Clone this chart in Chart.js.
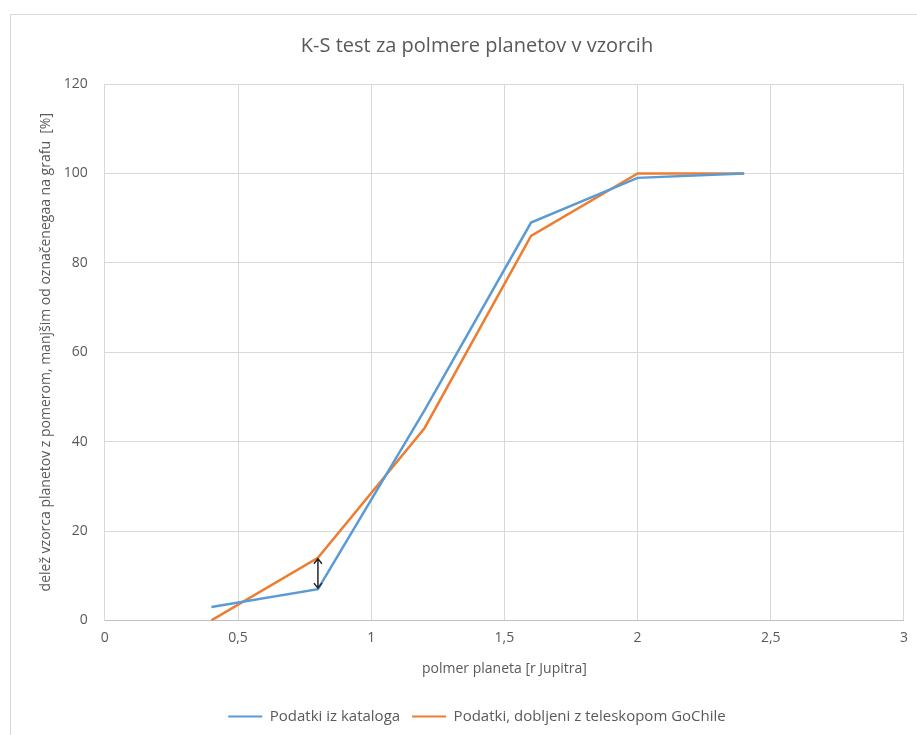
<!DOCTYPE html>
<html>
<head>
<meta charset="utf-8">
<script src="https://cdn.jsdelivr.net/npm/chart.js@4"></script>
<style>
  html, body { margin: 0; padding: 0; background: #fff; }
  #frame { position: absolute; left: 10px; top: 14px; width: 920px; height: 740px; border-left: 1px solid #d9d9d9; border-top: 1px solid #d9d9d9; }
  #wrap { position: absolute; left: 0; top: 0; width: 917px; height: 735px; }
</style>
</head>
<body>
<div id="frame"></div>
<div id="wrap"><canvas id="ks"></canvas></div>
<script>
// --- podatki ---
const radii = [0.4, 0.8, 1.2, 1.6, 2.0, 2.4];
const catalogValues = [3, 7, 47, 89, 99, 100];
const telescopeValues = [0, 14, 43, 86, 100, 100];
const xTicks = [0, 0.5, 1, 1.5, 2, 2.5, 3];
const yTicks = [0, 20, 40, 60, 80, 100, 120];
const seriesNames = ['Podatki iz kataloga', 'Podatki, dobljeni z teleskopom GoChile'];
const arrowAt = 0.8; // puščica med krivuljama

const toPoints = vals => radii.map((r, i) => ({ x: r, y: vals[i] }));

// puščica z dvema konicama pri x = 0,8
const arrowPlugin = {
  id: 'ksArrow',
  afterDatasetsDraw(chart) {
    const { ctx, scales } = chart;
    const i = radii.indexOf(arrowAt);
    const x = scales.x.getPixelForValue(arrowAt);
    const y1 = scales.y.getPixelForValue(catalogValues[i]);
    const y2 = scales.y.getPixelForValue(telescopeValues[i]);
    const top = Math.min(y1, y2) + 1, bot = Math.max(y1, y2) - 1;
    ctx.save();
    ctx.strokeStyle = '#262626';
    ctx.lineWidth = 1.5;
    ctx.beginPath();
    ctx.moveTo(x, top); ctx.lineTo(x, bot);
    ctx.moveTo(x - 4, top + 5); ctx.lineTo(x, top); ctx.lineTo(x + 4, top + 5);
    ctx.moveTo(x - 4, bot - 5); ctx.lineTo(x, bot); ctx.lineTo(x + 4, bot - 5);
    ctx.stroke();
    ctx.restore();
  }
};

const font = "'Open Sans', 'Noto Sans', sans-serif";
const grey = '#595959';

new Chart(document.getElementById('ks'), {
  type: 'scatter',
  data: {
    datasets: [
      {
        label: seriesNames[0],
        data: toPoints(catalogValues),
        showLine: true,
        borderColor: '#5b9bd5',
        backgroundColor: '#5b9bd5',
        borderWidth: 2.5,
        pointRadius: 0,
        tension: 0
      },
      {
        label: seriesNames[1],
        data: toPoints(telescopeValues),
        showLine: true,
        borderColor: '#ed7d31',
        backgroundColor: '#ed7d31',
        borderWidth: 2.5,
        pointRadius: 0,
        tension: 0
      }
    ]
  },
  options: {
    responsive: true,
    maintainAspectRatio: false,
    animation: false,
    layout: { padding: { left: 38, right: 1, top: 20, bottom: 1 } },
    plugins: {
      title: {
        display: true,
        text: 'K-S test za polmere planetov v vzorcih',
        color: grey,
        font: { family: font, size: 20, weight: 'normal' },
        padding: { top: 14, bottom: 26 }
      },
      legend: {
        position: 'bottom',
        labels: {
          color: grey,
          font: { family: font, size: 15 },
          boxWidth: 34,
          boxHeight: 2,
          padding: 12,
          generateLabels: chart => Chart.defaults.plugins.legend.labels.generateLabels(chart)
            .map(l => Object.assign(l, { lineWidth: 0 }))
        }
      },
      tooltip: { enabled: false }
    },
    scales: {
      x: {
        type: 'linear',
        min: 0,
        max: 3,
        afterBuildTicks: axis => { axis.ticks = xTicks.map(v => ({ value: v })); },
        ticks: {
          color: grey,
          font: { family: font, size: 14 },
          padding: 9,
          callback: v => String(v).replace('.', ',')
        },
        grid: { color: '#d9d9d9', drawTicks: false },
        border: { color: '#bfbfbf' },
        title: {
          display: true,
          text: 'polmer planeta [r Jupitra]',
          color: grey,
          font: { family: font, size: 14 },
          padding: { top: 5, bottom: 20 }
        }
      },
      y: {
        min: 0,
        max: 120,
        afterBuildTicks: axis => { axis.ticks = yTicks.map(v => ({ value: v })); },
        ticks: {
          color: grey,
          font: { family: font, size: 14 },
          padding: 17
        },
        grid: { color: '#d9d9d9', drawTicks: false },
        border: { color: '#d9d9d9' },
        title: {
          display: true,
          text: 'delež vzorca planetov z pomerom, manjšim od označenegaa na grafu  [%]',
          color: grey,
          font: { family: font, size: 14 },
          padding: { top: 0, bottom: -8 }
        }
      }
    }
  },
  plugins: [arrowPlugin]
});
</script>
</body>
</html>
